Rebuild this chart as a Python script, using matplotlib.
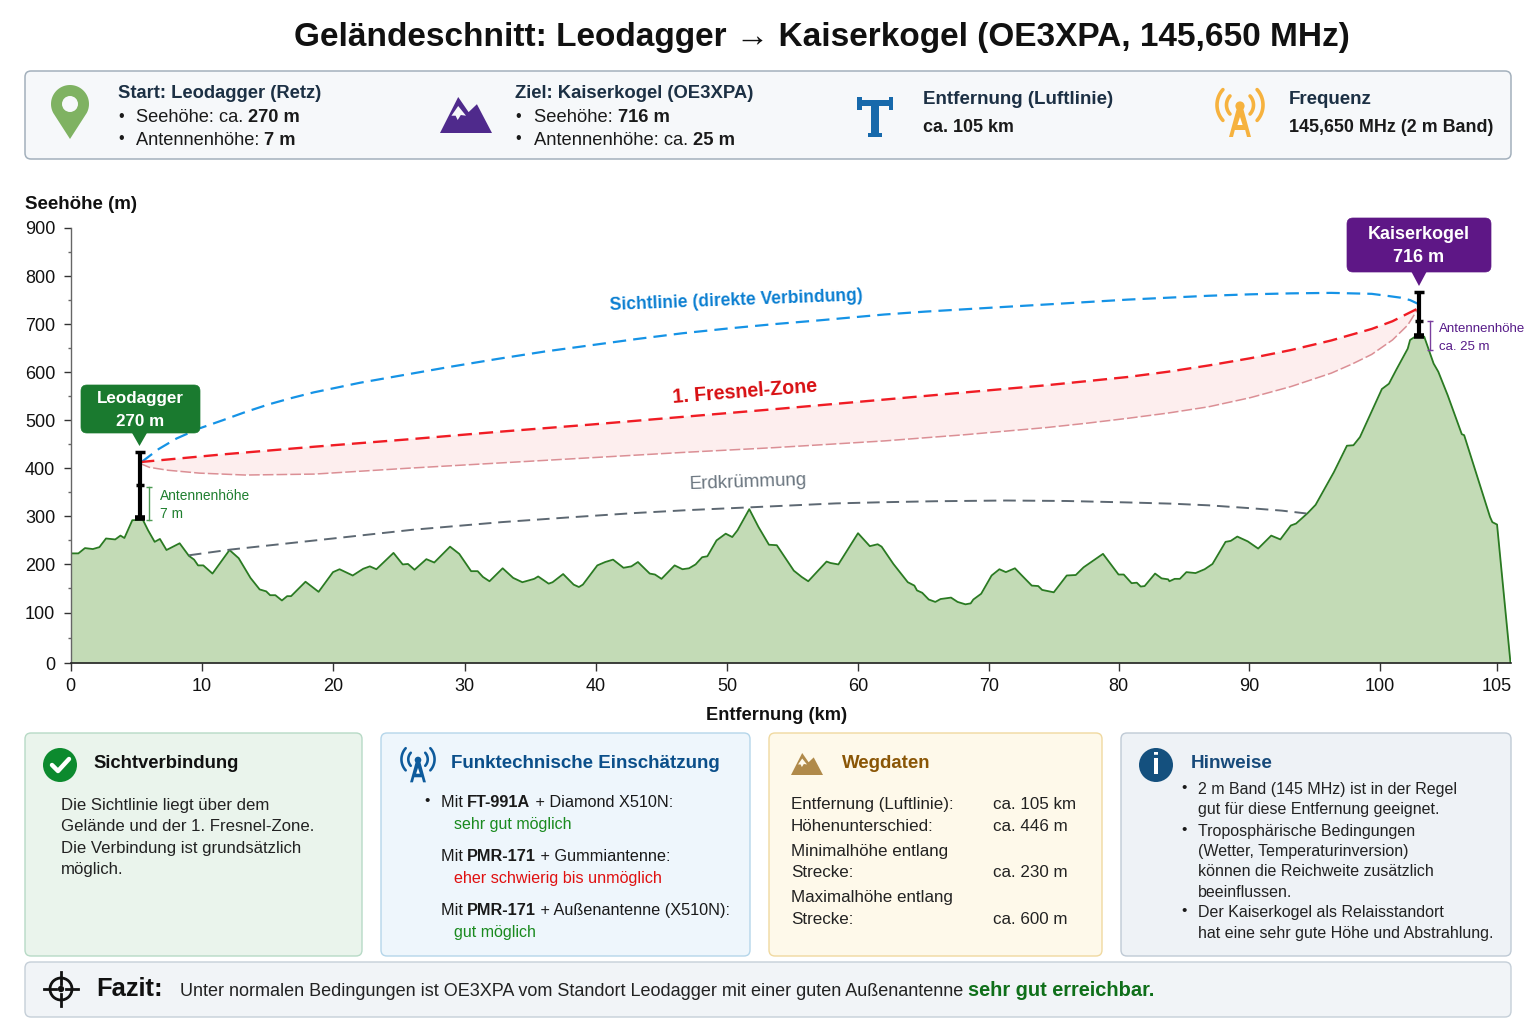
import numpy as np
import matplotlib
matplotlib.use("Agg")
import matplotlib.pyplot as plt
from matplotlib.patches import FancyBboxPatch, Polygon, Circle, Rectangle

plt.rcParams['font.family'] = ['Liberation Sans', 'DejaVu Sans']

# ---------- data ----------
terrain_km = [0,0.6,1.1,1.7,2.2,2.7,3.4,3.8,4.1,4.7,5.5,5.9,6.4,6.8,7.3,7.8,8.3,9.0,9.4,9.7,10.1,10.8,12.1,12.8,13.7,14.4,14.9,15.2,15.6,16.1,16.5,16.8,17.9,18.9,
 20.0,20.5,21.5,22.3,22.8,23.3,24.6,25.3,25.7,26.2,27.1,27.7,28.9,29.6,30.5,31.0,31.4,31.9,32.9,33.7,34.4,35.3,35.6,36.4,36.7,37.5,38.3,38.7,39.0,
 40.1,40.7,41.3,42.1,42.7,43.2,44.1,44.5,45.0,46.0,46.6,47.1,47.6,48.1,48.5,49.2,49.9,50.4,50.8,51.7,52.4,53.2,53.8,55.1,55.7,56.2,57.6,57.9,58.5,
 60.0,60.9,61.5,61.8,62.7,63.8,64.3,64.5,64.9,65.4,65.9,66.3,67.1,67.6,68.2,68.6,68.8,69.4,70.2,70.8,71.3,72.0,72.5,73.3,73.8,74.1,75.0,76.0,76.7,77.3,78.0,78.8,
 80.0,80.4,81.0,81.4,81.7,82.0,82.8,83.3,83.8,83.9,84.3,84.7,85.2,85.9,86.6,87.2,88.2,88.6,89.1,89.9,90.7,91.7,92.4,93.2,93.6,94.5,95.1,95.8,96.5,97.5,98.0,98.5,
 100.1,100.4,100.7,101.2,101.3,101.55,101.9,102.3,102.5,102.9,103.5,103.6,104.7,104.8,105.0,105.57]
terrain_m = [223,223,234,232,236,254,252,260,255,292,293,271,247,253,230,237,244,218,210,198,198,181,230,213,172,148,144,136,136,125,134,134,164,143,
 184,190,177,191,196,190,224,200,201,189,211,204,237,222,186,186,174,165,192,172,163,170,175,160,163,180,158,153,158,
 198,205,210,193,196,205,181,179,170,198,190,192,200,215,217,250,264,257,271,315,278,241,240,187,174,165,206,203,200,
 265,238,242,237,201,163,156,146,141,127,122,128,131,122,117,119,127,139,177,190,184,192,178,156,155,147,142,177,178,194,207,222,
 179,179,161,162,154,155,181,171,169,165,170,170,184,182,190,201,247,249,258,248,233,260,252,281,285,307,324,358,392,447,448,465,
 565,576,604,649,667,675,674,618,601,552,471,469,299,288,283,0]

sight_km = [5.4,6.7,8.06,9.8,11.58,13.3,15.09,16.8,18.53,20.3,22.05,25.56,29.08,32.6,36.1,39.6,43.1,46.6,50.1,53.6,57.1,62.0,65.1,68.2,71.3,74.5,77.6,80.7,83.8,86.9,90.1,93.2,96.3,99.4,100.3,100.9,101.3,101.65]
sight_m = [413,440,462,483,500,517,533,546,558,568,578,595,612,628,643,656,669,681,691,700,708,720,726,731,736,741,746,751,755,759,762,764,765,763,759,755,750,742]

fresnel_up_km = [5.3,11.6,18.6,25.6,32.6,39.6,46.6,53.6,62.0,68.2,74.5,80.7,83.8,86.9,90.1,93.2,96.3,99.4,100.55,101.2,101.65]
fresnel_up_m = [413,429,445,460,476,491,507,523,543,558,573,590,601,614,629,646,666,690,706,722,733]
fresnel_lo_km = [5.3,6.0,7.4,9.8,13.3,18.6,25.6,32.6,39.6,46.6,53.6,62.0,68.2,74.5,77.6,80.7,83.8,86.9,90.1,93.2,96.3,97.9,99.4,100.55,101.2,101.65]
fresnel_lo_m = [410,402,396,390,386,388,400,411,422,433,443,457,470,485,494,504,515,528,547,570,598,617,637,667,698,733]

earth_km = [9.0,12.2,20.0,26.0,32.8,38.0,43.0,47.0,51.9,58.3,62.0,65.9,71.3,76.0,80.7,84.0,86.9,90.1,92.5,94.4]
earth_m = [219,231,254,272,288,298,307,313,319,327,329.5,331.5,333,332,329,326.5,323,317,312,306]

mast_a = dict(km=5.27, bottom=296, mid=365, top=433)
mast_b = dict(km=101.7, bottom=675, mid=706, top=767)
bracket_a = (5.95, 292, 362)
bracket_b = (102.15, 646, 706)

x_ticks = [0,10,20,30,40,50,60,70,80,90,100,105]
y_ticks = [0,100,200,300,400,500,600,700,800,900]
y_minor = [50,150,250,350,450,550,650,750,850]

W, H = 1536, 1024
PT = 0.72
fig = plt.figure(figsize=(W/100, H/100), dpi=100, facecolor='white')

# ---------- chart ----------
L, R, T, B = 70.5, 1510.5, 228, 663
ax = fig.add_axes([L/W, 1-B/H, (R-L)/W, (B-T)/H], zorder=2)
ax.patch.set_alpha(0)

# axis scales: the reference's axes are piecewise (ticks unevenly spaced, last 5 km stretched)
xk = [-100, 0, 10, 20, 30, 40, 50, 60, 70, 80, 90, 100, 105, 200]
xp = [-1310, 0, 131.5, 262.5, 394, 525.5, 656.5, 787.5, 918.5, 1048, 1178.5, 1309, 1426.5, 3668]
yk, yp = [-100, 0, 100, 900, 2000], [-50.5, 0, 50.5, 435, 963]
ax.set_xscale('function', functions=(lambda v: np.interp(v, xk, xp), lambda v: np.interp(v, xp, xk)))
ax.set_yscale('function', functions=(lambda v: np.interp(v, yk, yp), lambda v: np.interp(v, yp, yk)))

ax.fill_between(terrain_km, terrain_m, 0, color='#c3dbb6', lw=0, zorder=1)
ax.plot([0]+terrain_km, [0]+terrain_m, color='#2a7a22', lw=1.3, zorder=2)

ax.fill(fresnel_up_km + fresnel_lo_km[::-1], fresnel_up_m + fresnel_lo_m[::-1], color='#fdeeee', lw=0, zorder=2)
ax.plot(sight_km, sight_m, color='#1593e6', lw=1.6, dashes=(6, 3.2), zorder=4)
ax.plot(fresnel_up_km, fresnel_up_m, color='#f01c24', lw=1.7, dashes=(6, 3), zorder=4)
ax.plot(fresnel_lo_km, fresnel_lo_m, color='#db8f95', lw=1.1, dashes=(7, 2), zorder=3)
ax.plot(earth_km, earth_m, color='#5d6872', lw=1.4, dashes=(6.5, 3.5), zorder=3)

for m in (mast_a, mast_b):
    ax.plot([m['km']]*2, [m['bottom'], m['top']], color='black', lw=3, zorder=6, solid_capstyle='butt')
    ax.plot([m['km']], [m['top']], marker='_', ms=7, mew=2.5, color='black', zorder=6)
    ax.plot([m['km']], [m['mid']], marker='_', ms=6, mew=2.5, color='black', zorder=6)
    ax.plot([m['km']], [m['bottom']], marker='_', ms=7.5, mew=4, color='black', zorder=6)

for (k, y0, y1), c in ((bracket_a, '#4c9a52'), (bracket_b, '#7a3f9e')):
    ax.plot([k, k], [y0, y1], color=c, lw=1, zorder=5, marker='_', ms=4.5, mew=1)

ax.set_xlim(0, 105.57)
ax.set_ylim(0, 900)
ax.set_xticks(x_ticks)
ax.set_yticks(y_ticks)
ax.set_yticks(y_minor, minor=True)
ax.tick_params(axis='y', which='major', length=5, width=1, color='#333333', labelsize=18*PT, labelcolor='#111111', pad=6)
ax.tick_params(axis='x', which='major', length=5.5, width=1, color='#333333', labelsize=18*PT, labelcolor='#111111', pad=5.5)
ax.tick_params(axis='y', which='minor', length=2.5, width=1, color='#666666')
for s in ('top', 'right'):
    ax.spines[s].set_visible(False)
ax.spines['left'].set_color('#666666')
ax.spines['left'].set_linewidth(1)
ax.spines['bottom'].set_color('#222222')
ax.spines['bottom'].set_linewidth(1.2)

# ---------- overlay in pixel coordinates ----------
ov = fig.add_axes([0, 0, 1, 1], zorder=3)
ov.set_xlim(0, W); ov.set_ylim(H, 0); ov.axis('off')

renderer = fig.canvas.get_renderer()

def T_(x, y, s, px=16, color='#1a1a1a', weight='normal', ha='left', va='center', rot=0, z=10):
    return ov.text(x, y+1.5, s, fontsize=px*PT, color=color, fontweight=weight, ha=ha, va=va, rotation=rot,
                   rotation_mode='anchor', zorder=z)

def width(s, px, weight):
    a = ov.text(0, 0, s + '|', fontsize=px*PT, fontweight=weight)
    b = ov.text(0, 0, '|', fontsize=px*PT, fontweight=weight)
    w = a.get_window_extent(renderer).width - b.get_window_extent(renderer).width
    a.remove(); b.remove()
    return w

def rich(x, y, parts, px=16):
    for p in parts:
        s, weight, color = p[0], p[1], p[2]
        size = p[3] if len(p) > 3 else px
        ov.text(x, y, s, fontsize=size*PT, fontweight=weight, color=color, ha='left', va='baseline', zorder=10)
        x += width(s, size, weight)

def panel(x0, y0, x1, y1, fc, ec, r=6, lw=1.0):
    ov.add_patch(FancyBboxPatch((x0, y0), x1-x0, y1-y0, boxstyle=f"round,pad=0,rounding_size={r}",
                                fc=fc, ec=ec, lw=lw, zorder=1))

def mountain(x0, x1, ytop, ybase, color, snow='white'):
    w = x1 - x0
    h = ybase - ytop
    ov.add_patch(Polygon([(x0, ybase), (x0+0.35*w, ytop), (x0+0.55*w, ytop+0.42*h), (x0+0.71*w, ytop+0.2*h), (x1, ybase)],
                         closed=True, fc=color, ec='none', zorder=5))
    ov.add_patch(Polygon([(x0+0.22*w, ytop+0.52*h), (x0+0.35*w, ytop+0.25*h), (x0+0.5*w, ytop+0.52*h), (x0+0.4*w, ytop+0.5*h),
                          (x0+0.34*w, ytop+0.64*h), (x0+0.3*w, ytop+0.52*h)], closed=True, fc=snow, ec='none', zorder=6))

def antenna(cx, cy, s, color):
    """cy = centre of the top dot; s = size factor"""
    ov.add_patch(Circle((cx, cy), 4.6*s, fc=color, ec='none', zorder=5))
    ov.add_patch(Polygon([(cx-2.5*s, cy), (cx+2.5*s, cy), (cx+11*s, cy+31*s), (cx+7*s, cy+31*s), (cx+5.2*s, cy+24*s),
                          (cx-5.2*s, cy+24*s), (cx-7*s, cy+31*s), (cx-11*s, cy+31*s)], closed=True, fc=color, ec='none', zorder=5))
    ov.add_patch(Polygon([(cx, cy+11*s), (cx+2.6*s, cy+19*s), (cx-2.6*s, cy+19*s)], closed=True, fc='white', ec='none', zorder=6))
    for rad in (13.5*s, 23*s):
        th = np.radians(np.linspace(-42, 42, 30))
        ov.plot(cx+rad*np.cos(th), cy+rad*np.sin(th)-1*s, color=color, lw=2.6*s, solid_capstyle='round', zorder=5)
        ov.plot(cx-rad*np.cos(th), cy+rad*np.sin(th)-1*s, color=color, lw=2.6*s, solid_capstyle='round', zorder=5)

def callout(x0, y0, x1, y1, tipx, tipy, color, l1, l2, px):
    panel(x0, y0, x1, y1, color, color, r=6, lw=0.5)
    ov.add_patch(Polygon([(tipx-8, y1-1), (tipx+8, y1-1), (tipx, tipy)], closed=True, fc=color, ec='none', zorder=2))
    my = (y0+y1)/2
    T_((x0+x1)/2, my-12, l1, px=px, color='white', weight='bold', ha='center')
    T_((x0+x1)/2, my+10.5, l2, px=px, color='white', weight='bold', ha='center')

# title
T_(822, 36, 'Geländeschnitt: Leodagger → Kaiserkogel (OE3XPA, 145,650 MHz)', px=33.4, color='#111111', weight='bold', ha='center')

# header panel
panel(25, 71, 1511, 159, '#f6f8fa', '#a3b0bc', r=6, lw=1.1)
HD = '#1c3044'
INK = '#1a1a1a'
# pin icon
th = np.radians(np.linspace(-28, 208, 50))
ov.add_patch(Polygon(np.r_[np.c_[70+19*np.cos(th), 104-19*np.sin(th)], [[70, 139]]], closed=True, fc='#7fb262', ec='none', zorder=5))
ov.add_patch(Circle((70, 104), 8, fc='#f6f8fa', ec='none', zorder=6))

rich(118, 98, [('Start: Leodagger (Retz)', 'bold', HD)], px=18.4)
T_(118, 114.5, '•', px=16, color=INK)
rich(136, 122, [('Seehöhe: ca. ', 'normal', INK), ('270 m', 'bold', INK)], px=18.3)
T_(118, 137.5, '•', px=16, color=INK)
rich(136, 145, [('Antennenhöhe: ', 'normal', INK), ('7 m', 'bold', INK)], px=18.3)

mountain(440, 492, 97, 133, '#4f2a8c', snow='#f6f8fa')
rich(515, 98, [('Ziel: Kaiserkogel (OE3XPA)', 'bold', HD)], px=18.5)
T_(515, 114.5, '•', px=16, color=INK)
rich(534, 122, [('Seehöhe: ', 'normal', INK), ('716 m', 'bold', INK)], px=18.4)
T_(515, 137.5, '•', px=16, color=INK)
rich(534, 145, [('Antennenhöhe: ca. ', 'normal', INK), ('25 m', 'bold', INK)], px=18.4)

# distance icon
BL = '#1769ab'
ov.add_patch(Rectangle((871, 100), 8, 36, fc=BL, ec='none', zorder=5))
ov.add_patch(Rectangle((857, 100), 36, 6, fc=BL, ec='none', zorder=5))
ov.add_patch(Rectangle((857, 97), 4.5, 13, fc=BL, ec='none', zorder=5))
ov.add_patch(Rectangle((888.5, 97), 4.5, 13, fc=BL, ec='none', zorder=5))
ov.add_patch(Rectangle((868, 133), 14, 4, fc=BL, ec='none', zorder=5))
rich(923, 104, [('Entfernung (Luftlinie)', 'bold', HD)], px=18.8)
rich(923, 132, [('ca. 105 km', 'bold', INK)], px=17.9)

antenna(1240, 106, 1, '#f6b23e')
rich(1289, 104, [('Frequenz', 'bold', HD)], px=18.8)
rich(1289, 132, [('145,650 MHz (2 m Band)', 'bold', INK)], px=17.9)

# axis titles
T_(25, 203, 'Seehöhe (m)', px=18.8, color='#111111', weight='bold')
T_(776.5, 714, 'Entfernung (km)', px=18.3, color='#111111', weight='bold', ha='center')

# line labels
T_(736, 299, 'Sichtlinie (direkte Verbindung)', px=17.55, color='#0b7fd1', weight='bold', ha='center', rot=2.2)
T_(745, 390, '1. Fresnel-Zone', px=19.7, color='#d80f12', weight='bold', ha='center', rot=4.5)
T_(748, 481, 'Erdkrümmung', px=18.8, color='#6b7680', ha='center', rot=2)

T_(160, 495, 'Antennenhöhe', px=13.8, color='#1f7f2f')
T_(160, 512, '7 m', px=13.8, color='#1f7f2f')
T_(1439, 328, 'Antennenhöhe', px=13.3, color='#561a88')
T_(1439, 345, 'ca. 25 m', px=13.3, color='#561a88')

callout(81, 385, 200, 433, 139.5, 446, '#1a7a2f', 'Leodagger', '270 m', 17)
callout(1347, 218, 1491, 272, 1419, 286, '#5e1786', 'Kaiserkogel', '716 m', 18)

# bottom panels
panel(25, 733, 362, 956, '#eaf4ec', '#b7dac6')
panel(381, 733, 750, 956, '#eef6fc', '#b5d6ea')
panel(769, 733, 1102, 956, '#fef9ea', '#f0d9a0')
panel(1121, 733, 1511, 956, '#eef2f6', '#bfcad5')
panel(25, 962, 1511, 1017, '#f1f4f7', '#c5cfd8')

# Sichtverbindung
ov.add_patch(Circle((60, 765), 17, fc='#0c8a2e', ec='none', zorder=5))
ov.plot([52, 58, 69], [765, 771, 759], color='white', lw=3.2, solid_capstyle='round', solid_joinstyle='round', zorder=6)
T_(93.5, 762, 'Sichtverbindung', px=18.5, color='#111111', weight='bold')
for y, s in zip((804, 825, 847, 868), ('Die Sichtlinie liegt über dem', 'Gelände und der 1. Fresnel-Zone.', 'Die Verbindung ist grundsätzlich', 'möglich.')):
    T_(61, y, s, px=16.7, color='#222222')

# Funktechnische Einschätzung
antenna(418, 760, 0.72, '#0e5b9c')
T_(451, 762, 'Funktechnische Einschätzung', px=18.75, color='#0b4f8a', weight='bold')
T_(424, 800, '•', px=15, color=INK)
rich(441, 807, [('Mit ', 'normal', INK), ('FT-991A', 'bold', INK), (' + Diamond X510N:', 'normal', INK)], px=16.3)
T_(454, 823, 'sehr gut möglich', px=16, color='#198a1e')
rich(441, 861, [('Mit ', 'normal', INK), ('PMR-171', 'bold', INK), (' + Gummiantenne:', 'normal', INK)], px=16.3)
T_(454, 877, 'eher schwierig bis unmöglich', px=16.1, color='#e01010')
rich(441, 915, [('Mit ', 'normal', INK), ('PMR-171', 'bold', INK), (' + Außenantenne (X510N):', 'normal', INK)], px=16.2)
T_(454, 931, 'gut möglich', px=16, color='#198a1e')

# Wegdaten
mountain(791, 823, 753, 775, '#b08a4a', snow='#fef9ea')
T_(842, 762, 'Wegdaten', px=18.6, color='#8a5606', weight='bold')
for y, a, b in ((803, 'Entfernung (Luftlinie):', 'ca. 105 km'), (825, 'Höhenunterschied:', 'ca. 446 m'), (850, 'Minimalhöhe entlang', ''),
                (871, 'Strecke:', 'ca. 230 m'), (896, 'Maximalhöhe entlang', ''), (918, 'Strecke:', 'ca. 600 m')):
    T_(791, y, a, px=17, color='#222222')
    if b:
        T_(993, y, b, px=17, color='#222222')

# Hinweise
ov.add_patch(Circle((1156, 765), 17, fc='#14507e', ec='none', zorder=5))
T_(1156, 764, 'i', px=29, color='white', weight='bold', ha='center', z=6)
T_(1191, 762, 'Hinweise', px=18.9, color='#174a7a', weight='bold')
lines = ((788, '2 m Band (145 MHz) ist in der Regel', True), (808, 'gut für diese Entfernung geeignet.', False),
         (830, 'Troposphärische Bedingungen', True), (850, '(Wetter, Temperaturinversion)', False),
         (870, 'können die Reichweite zusätzlich', False), (891, 'beeinflussen.', False),
         (911, 'Der Kaiserkogel als Relaisstandort', True), (932, 'hat eine sehr gute Höhe und Abstrahlung.', False))
for y, s, bullet in lines:
    T_(1198, y, s, px=16, color='#222222')
    if bullet:
        T_(1181, y-1.5, '•', px=15, color=INK)

# Fazit
ov.add_patch(Circle((61, 989), 11, fc='none', ec='#111111', lw=2, zorder=5))
ov.add_patch(Circle((61, 989), 3.2, fc='#111111', ec='none', zorder=5))
ov.plot([44, 56], [989, 989], color='#111111', lw=2, zorder=5)
ov.plot([66, 78], [989, 989], color='#111111', lw=2, zorder=5)
ov.plot([61, 61], [972, 984], color='#111111', lw=2, zorder=5)
ov.plot([61, 61], [994, 1006], color='#111111', lw=2, zorder=5)
T_(96.5, 988, 'Fazit:', px=25.5, color='#111111', weight='bold')
rich(180, 996, [('Unter normalen Bedingungen ist OE3XPA vom Standort Leodagger mit einer guten Außenantenne ', 'normal', '#222222', 18),
                ('sehr gut erreichbar.', 'bold', '#0f6f1a', 20)])

fig.savefig('out.png', dpi=100, facecolor='white')
